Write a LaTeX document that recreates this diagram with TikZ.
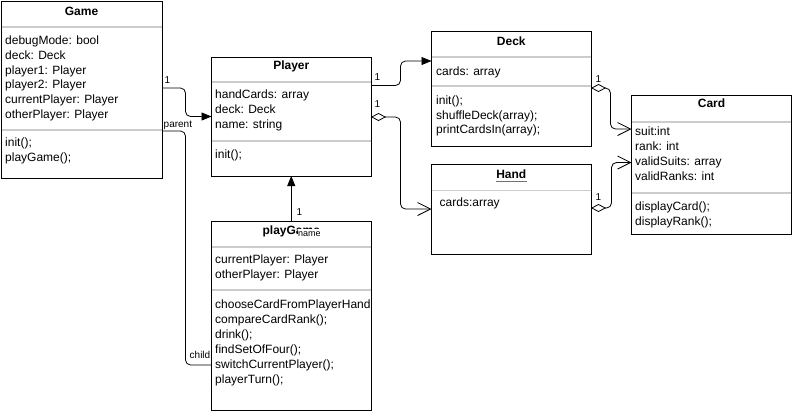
\documentclass[tikz,border=0pt]{standalone}
\usepackage{fontspec}
\setmainfont{Liberation Sans}
\usetikzlibrary{arrows.meta,calc}
\begin{document}
\begin{tikzpicture}[x=1pt,y=-1pt,
 box/.style={draw, line width=0.9pt, anchor=north west, inner sep=0pt, outer sep=0pt},
 sep/.style={draw=black!20, line width=1.8pt},
 txt/.style={anchor=base west, inner sep=0pt, font=\fontsize{12}{14}\selectfont},
 ttl/.style={anchor=base, inner sep=0pt, font=\fontsize{12}{14}\selectfont\bfseries},
 lbl/.style={anchor=base west, inner sep=0.5pt, font=\fontsize{10}{12}\selectfont},
 conn/.style={line width=0.8pt, rounded corners=5pt},
 filled/.style={-{Triangle[length=10pt,width=8pt]}},
 agg/.style={{Diamond[open,length=15pt,width=8pt]}-{Straight Barb[length=13pt,width=13pt]}},
]
\useasboundingbox (0,0) rectangle (793,416);
\fill[white] (0,0) rectangle (793,416);

% boxes
\node[box, minimum width=161pt, minimum height=177pt] (game) at (1,1) {};
\node[box, minimum width=159.5pt, minimum height=119pt] (pl) at (211.5,57) {};
\node[box, minimum width=159.5pt, minimum height=189pt] (pg) at (211.5,221.5) {};
\node[box, minimum width=159.5pt, minimum height=114.5pt] (deck) at (431.5,31.5) {};
\node[box, minimum width=159.5pt, minimum height=90pt] (hand) at (431.5,164) {};
\node[box, minimum width=160pt, minimum height=139pt] (card) at (631.5,95) {};

% separators
\draw[sep] ([xshift=0.5pt]game.west |- 0,27) -- ([xshift=-0.5pt]game.east |- 0,27);
\draw[sep] ([xshift=0.5pt]game.west |- 0,130) -- ([xshift=-0.5pt]game.east |- 0,130);
\draw[sep] ([xshift=0.5pt]pl.west |- 0,82) -- ([xshift=-0.5pt]pl.east |- 0,82);
\draw[sep] ([xshift=0.5pt]pl.west |- 0,141) -- ([xshift=-0.5pt]pl.east |- 0,141);
\draw[sep] ([xshift=0.5pt]pg.west |- 0,246.7) -- ([xshift=-0.5pt]pg.east |- 0,246.7);
\draw[sep] ([xshift=0.5pt]pg.west |- 0,290) -- ([xshift=-0.5pt]pg.east |- 0,290);
\draw[sep] ([xshift=0.5pt]deck.west |- 0,56.7) -- ([xshift=-0.5pt]deck.east |- 0,56.7);
\draw[sep] ([xshift=0.5pt]deck.west |- 0,85.7) -- ([xshift=-0.5pt]deck.east |- 0,85.7);
\draw[sep] ([xshift=0.5pt]hand.west |- 0,190.5) -- ([xshift=-0.5pt]hand.east |- 0,190.5);
\draw[sep] ([xshift=0.5pt]card.west |- 0,121.7) -- ([xshift=-0.5pt]card.east |- 0,121.7);
\draw[sep] ([xshift=0.5pt]card.west |- 0,193) -- ([xshift=-0.5pt]card.east |- 0,193);

% Game
\node[ttl] (gt) at (81.5,15) {Game};
\node[txt] (g1) at (5,44) {debugMode: bool};
\node[txt] (g2) at (5,59) {deck: Deck};
\node[txt] (g3) at (5,74) {player1: Player};
\node[txt] (g4) at (5,88.5) {player2: Player};
\node[txt] (g5) at (5,103.3) {currentPlayer: Player};
\node[txt] (g6) at (5,118.3) {otherPlayer: Player};
\node[txt] (g7) at (5,146.5) {init();};
\node[txt] (g8) at (5,161.5) {playGame();};

% Player
\node[ttl] (plt) at (291.3,69.5) {Player};
\node[txt] (p1) at (215,98.5) {handCards: array};
\node[txt] (p2) at (215,113.3) {deck: Deck};
\node[txt] (p3) at (215,128.3) {name: string};
\node[txt] (p4) at (215,158.5) {init();};

% playGame
\node[ttl] (pgt) at (291.3,234) {playGame};
\node[txt] (q1) at (215,263.5) {currentPlayer: Player};
\node[txt] (q2) at (215,278.5) {otherPlayer: Player};
\begin{scope}
\clip (pg.north west) rectangle (pg.south east);
\node[txt] (q3) at (215,308.3) {chooseCardFromPlayerHand();};
\end{scope}
\node[txt] (q4) at (215,323.3) {compareCardRank();};
\node[txt] (q5) at (215,338.3) {drink();};
\node[txt] (q6) at (215,353.3) {findSetOfFour();};
\node[txt] (q7) at (215,368.3) {switchCurrentPlayer();};
\node[txt] (q8) at (215,383.3) {playerTurn();};

% Deck
\node[ttl] (dt) at (511.3,45) {Deck};
\node[txt] (d1) at (436,75) {cards: array};
\node[txt] (d2) at (436,104.3) {init();};
\node[txt] (d3) at (436,119) {shuffleDeck(array);};
\node[txt] (d4) at (436,133.5) {printCardsIn(array);};

% Hand
\node[ttl] (ht) at (511.3,178.3) {Hand};
\draw[black!55, line width=1.6pt] (ht.west |- 0,181.5) -- (ht.east |- 0,181.5);
\node[txt] (h1) at (439.5,206) {cards:array};

% Card
\node[ttl] (ct) at (711.5,107) {Card};
\node[txt] (c1) at (635,135.5) {suit:int};
\node[txt] (c2) at (635,150.3) {rank: int};
\node[txt] (c3) at (635,165.2) {validSuits: array};
\node[txt] (c4) at (635,180) {validRanks: int};
\node[txt] (c5) at (635,210.5) {displayCard();};
\node[txt] (c6) at (635,225.3) {displayRank();};

% connectors
\draw[conn,filled] (game.east |- 0,88) -| ($(pl.west)+(-26,0)$) -- (pl.west);
\draw[conn] (game.east |- 0,131) -| ($(pg.west |- 0,365)+(-26,0)$) -- (pg.west |- 0,365);
\draw[conn,filled] (pg.north) -- (pl.south);
\draw[conn,filled] (pl.east |- 0,85.5) -| ($(deck.west |- 0,61)+(-31,0)$) -- (deck.west |- 0,61);
\draw[conn,agg] (pl.east |- 0,117) -| ($(hand.west)+(-31,0)$) -- (hand.west);
\draw[conn,agg] (deck.east |- 0,88) -| ($(card.west |- 0,129)+(-21,0)$) -- (card.west |- 0,129);
\draw[conn,agg] (hand.east |- 0,208) -| ($(card.west |- 0,162.5)+(-20,0)$) -- (card.west |- 0,162.5);

% labels
\node[lbl] (l1) at (164,83.5) {1};
\node[lbl] (l2) at (163,127) {parent};
\node[lbl] (l3) at (189,358.5) {child};
\node[lbl] (l4) at (296,215.5) {1};
\node[lbl, fill=white, text height=7pt, text depth=1pt, font=\fontsize{9}{11}\selectfont] (l5) at (297.5,236) {name};
\node[lbl] (l6) at (374,80.5) {1};
\node[lbl] (l7) at (374,107) {1};
\node[lbl] (l8) at (595,82) {1};
\node[lbl] (l9) at (595,200) {1};
\end{tikzpicture}
\end{document}
